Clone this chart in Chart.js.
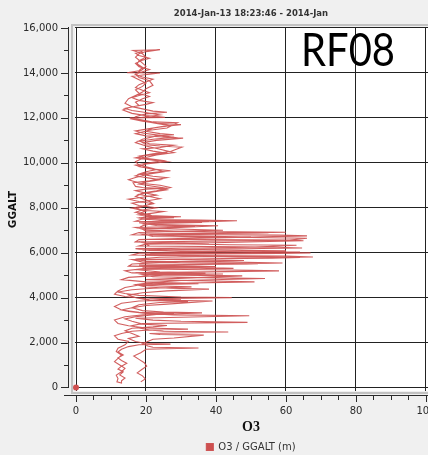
<!DOCTYPE html>
<html>
<head>
<meta charset="utf-8">
<title>RF08 O3 profile</title>
<script src="https://cdn.jsdelivr.net/npm/chart.js@4/dist/chart.umd.min.js"></script>
<style>
  html, body { margin: 0; padding: 0; overflow: hidden; background: #f0f0f0; }
  #wrap { width: 428px; height: 455px; overflow: hidden; }
  canvas { display: block; }
</style>
</head>
<body>
<div id="wrap"><canvas id="profileChart" width="504" height="462"></canvas></div>
<script>
// flight track: ozone (ppbv) against GPS altitude (m); first sample is the 0/0 record
const o3 = [
  0, null,
  // first climb
  18.5, 19.8, 19, 17.5, 18.8, 20.2, 19.5, 18, 16.5, 18.5,
  20, 35, 22, 20.5, 19, 20.5, 22, 28, 36.5, 24,
  21, 43.5, 25, 21, 18, 16, 19, 49, 30, 22,
  17, 49.5, 28, 20, 15, 13, 16, 20, 25, 39,
  27, 21, 44.5, 30, 18, 14, 12, 16, 22, 33,
  24, 18, 20, 51, 35, 20, 47.5, 30, 20, 17,
  58, 50, 25, 19, 40, 21, 59, 45, 20, 18,
  67.7, 60, 20, 22, 62.6, 64, 30, 19, 64.6, 55,
  21, 20, 65, 62, 22, 66, 58, 21, 55, 40,
  20, 19, 40.6, 30, 19, 46, 35, 20, 18, 22,
  21, 17, 19, 23, 18, 16, 20, 24, 21, 18,
  22, 26, 25, 19, 17, 16.3, 21, 26, 22, 18,
  20, 23, 19, 17, 21, 25, 20, 18, 22, 27,
  30.3, 24, 20, 19, 23, 30.6, 25, 20, 17, 21,
  26, 29, 22, 19, 15.4, 25.4, 20, 16, 13.4, 15,
  18, 17, 19, 21, 18, 17, 19, 20, 18, 16,
  24, 14.6, 18, 19, 17.5, 18, 20, 19, 16.3, 24,
  // descent
  20, 18, 17, 18.5, 20, 19, 17, 18, 21, 22,
  20, 19, 17, 15, 14, 16, 19, 22, 26, 20,
  17, 18, 23, 27, 22, 20, 24, 28, 23, 19,
  17, 20, 24, 28, 23, 19, 17, 18, 22, 25,
  21, 17, 15, 18, 24, 27, 23, 19, 17, 20,
  22, 19, 17, 20, 18, 21, 30, 22, 19, 17,
  36, 22, 19, 18, 42, 28, 18, 16, 50, 35,
  18, 17, 38, 20, 18, 55, 30, 18, 60, 45,
  18, 16, 50, 24, 17, 48, 30, 16, 15, 35,
  20, 14, 16, 42, 25, 15, 13, 20, 35, 18,
  14, 12, 11, 14, 20, 30, 18, 13, 11, 13,
  18, 28, 20, 14, 11, 12, 15, 20, 32, 21,
  16, 13, 11, 12, 15, 14, 12, 11.5, 13, 12,
  11, 12.5, 14, 13, 11.5, 12, 11.7, 13,
  // second climb
  13, 14, 12.5, 13.5, 12, 13, 14.5, 13, 12, 13.5,
  12, 13, 15, 18, 27, 20, 17, 15, 18, 16,
  14, 16, 22, 26, 19, 16, 14, 17, 23, 36,
  25, 19, 16, 18, 24, 32, 21, 17, 15, 19,
  26, 38, 27, 20, 17, 22, 30, 54, 40, 22,
  19, 37, 24, 17, 45, 30, 18, 52, 36, 19,
  16, 56, 64, 34, 20, 58, 67, 40, 21, 17,
  48, 63, 44, 20, 18, 61, 66, 50, 22, 19,
  44, 60, 30, 20, 17, 34, 23, 18, 38, 24,
  19, 28, 21, 18, 22, 25, 20, 16, 19, 22,
  18, 15, 19, 23, 20, 17, 20, 26, 22, 18,
  20, 24, 21, 17, 19, 24, 27, 22, 18, 20,
  26, 22, 17, 20, 26, 22, 19, 24, 28, 21,
  18, 22, 28, 24, 19, 17, 21, 25, 30, 23,
  19, 16, 20, 24, 19, 16, 14, 17, 20, 22,
  18, 16, 18, 21, 19, 17, 18, 20, 22, 19,
  17, 19, 21, 18, 17, 19, 21, 18, 17, 19
];

const ggalt = [
  0, null,
  // first climb
  250, 380, 520, 650, 800, 950, 1100, 1250, 1400, 1550,
  1700, 1760, 1790, 1850, 1950, 2050, 2150, 2200, 2330, 2360,
  2400, 2470, 2500, 2560, 2650, 2750, 2850, 2900, 2950, 3000,
  3080, 3190, 3230, 3300, 3380, 3450, 3550, 3650, 3700, 3850,
  3880, 3950, 4000, 4030, 4100, 4180, 4250, 4350, 4420, 4480,
  4520, 4560, 4620, 4700, 4750, 4800, 4970, 5000, 5050, 5100,
  5190, 5220, 5260, 5330, 5380, 5420, 5540, 5580, 5620, 5680,
  5810, 5850, 5880, 5950, 6000, 6030, 6060, 6120, 6210, 6250,
  6300, 6380, 6530, 6560, 6600, 6750, 6780, 6820, 6880, 6920,
  6960, 7050, 7200, 7230, 7280, 7420, 7450, 7480, 7550, 7620,
  7700, 7800, 7900, 8000, 8100, 8200, 8300, 8400, 8500, 8600,
  8700, 8800, 8850, 8900, 8950, 9110, 9200, 9340, 9400, 9500,
  9600, 9700, 9800, 9900, 10000, 10100, 10200, 10300, 10400, 10500,
  10700, 10750, 10800, 10900, 11000, 11100, 11150, 11200, 11300, 11450,
  11550, 11780, 11820, 11900, 12000, 12020, 12100, 12200, 12350, 12450,
  12550, 12700, 12850, 12950, 13100, 13250, 13400, 13550, 13700, 13850,
  14000, 14010, 14100, 14250, 14400, 14550, 14700, 14850, 15000, 15030,
  // descent
  14950, 14850, 14700, 14500, 14300, 14150, 13950, 13800, 13650, 13450,
  13300, 13150, 13000, 12850, 12650, 12500, 12400, 12300, 12250, 12180,
  12050, 11900, 11750, 11650, 11550, 11400, 11300, 11250, 11200, 11050,
  10900, 10750, 10600, 10450, 10350, 10200, 10050, 9900, 9750, 9600,
  9500, 9350, 9250, 9100, 9000, 8900, 8750, 8650, 8500, 8350,
  8200, 8050, 7950, 7850, 7750, 7650, 7600, 7560, 7500, 7400,
  7350, 7300, 7200, 7100, 7000, 6950, 6900, 6800, 6700, 6650,
  6580, 6480, 6420, 6380, 6300, 6250, 6200, 6150, 6080, 6040,
  5980, 5900, 5850, 5800, 5720, 5650, 5600, 5500, 5400, 5350,
  5300, 5200, 5100, 5050, 5000, 4900, 4800, 4700, 4620, 4560,
  4450, 4300, 4150, 4050, 3950, 3900, 3850, 3750, 3600, 3450,
  3350, 3300, 3250, 3150, 3000, 2850, 2750, 2650, 2600, 2560,
  2500, 2400, 2300, 2150, 2050, 1900, 1750, 1600, 1450, 1300,
  1150, 1000, 850, 700, 550, 400, 250, 200,
  // second climb
  300, 420, 560, 700, 820, 950, 1080, 1200, 1320, 1450,
  1580, 1700, 1820, 1900, 1930, 1960, 2050, 2180, 2280, 2400,
  2520, 2640, 2700, 2760, 2820, 2950, 3050, 3150, 3250, 3320,
  3360, 3420, 3550, 3680, 3780, 3820, 3880, 4000, 4120, 4220,
  4300, 4380, 4420, 4470, 4580, 4680, 4760, 4850, 4880, 4930,
  5020, 5080, 5140, 5250, 5300, 5360, 5450, 5500, 5530, 5580,
  5700, 5760, 5790, 5830, 5920, 5970, 5990, 6040, 6100, 6180,
  6230, 6330, 6350, 6420, 6480, 6560, 6640, 6680, 6720, 6830,
  6870, 6910, 6950, 7010, 7120, 7170, 7210, 7330, 7390, 7440,
  7500, 7560, 7600, 7680, 7760, 7830, 7880, 7980, 8080, 8180,
  8280, 8380, 8470, 8560, 8650, 8760, 8830, 8870, 8960, 9050,
  9150, 9250, 9320, 9420, 9520, 9600, 9650, 9720, 9830, 9950,
  10050, 10120, 10220, 10330, 10420, 10520, 10620, 10680, 10780, 10850,
  10960, 11050, 11130, 11220, 11330, 11420, 11520, 11620, 11700, 11760,
  11850, 11950, 12050, 12130, 12260, 12330, 12420, 12520, 12600, 12680,
  12780, 12900, 13000, 13120, 13230, 13350, 13480, 13600, 13720, 13820,
  13930, 14050, 14150, 14280, 14420, 14570, 14650, 14780, 14880, 14960
];

const altTicks = [0, 2000, 4000, 6000, 8000, 10000, 12000, 14000, 16000];
const o3Ticks = [0, 20, 40, 60, 80, 100];
const altMinorStep = 1000;
const o3MinorStep = 5;

const flightName = 'RF08';
const timeRange = '2014-Jan-13 18:23:46 - 2014-Jan';

const lineColor = 'rgba(204, 76, 76, 0.9)';
const axisColor = '#2b2b2b';

const points = o3.map((v, i) => ({ x: v, y: ggalt[i] }));

// gray frame, offset axes with minor ticks, and the flight label
const framePlugin = {
    id: 'frame',
    beforeDraw(chart) {
        const { ctx, chartArea: a } = chart;
        ctx.save();
        ctx.fillStyle = '#f0f0f0';
        ctx.fillRect(0, 0, chart.width, chart.height);
        ctx.fillStyle = '#ffffff';
        ctx.fillRect(a.left + 7, a.top + 3, a.right - a.left - 7, a.bottom - a.top - 7);
        ctx.restore();
    },
    beforeDatasetsDraw(chart) {
        const { ctx, chartArea: a, scales } = chart;
        const xs = scales.x, ys = scales.y;
        ctx.save();

        // frame strips between the axes and the plot
        ctx.fillStyle = '#f0f0f0';
        ctx.fillRect(a.left + 1, a.top, 6, a.bottom - a.top);
        ctx.fillRect(a.left + 1, a.top, a.right - a.left, 3);
        ctx.fillRect(a.left + 1, a.bottom - 4, a.right - a.left, 4);
        ctx.strokeStyle = '#c2c2c2';
        ctx.lineWidth = 2;
        ctx.strokeRect(72, 25, a.right - 72 + 2, a.bottom - 2 - 25);

        // axis lines
        ctx.strokeStyle = axisColor;
        ctx.lineWidth = 1;
        ctx.beginPath();
        const yTop = Math.round(ys.getPixelForValue(16000));
        ctx.moveTo(a.left + 0.5, yTop);
        ctx.lineTo(a.left + 0.5, Math.round(ys.getPixelForValue(0)) + 1);
        ctx.moveTo(64, a.bottom + 0.5);
        ctx.lineTo(a.right, a.bottom + 0.5);

        // y ticks
        for (let v = 0; v <= 16000; v += altMinorStep) {
            const py = Math.round(ys.getPixelForValue(v)) + 0.5;
            const major = altTicks.includes(v);
            ctx.moveTo(a.left - (major ? 7 : 4), py);
            ctx.lineTo(a.left + 1, py);
        }
        // x ticks
        for (let v = 0; v <= 100; v += o3MinorStep) {
            const px = Math.round(xs.getPixelForValue(v)) + 0.5;
            const major = o3Ticks.includes(v);
            ctx.moveTo(px, a.bottom);
            ctx.lineTo(px, a.bottom + (major ? 7 : 5));
        }
        ctx.stroke();

        // flight label, squeezed to the narrow face used on the plots
        ctx.fillStyle = '#000000';
        ctx.font = '46px Lato';
        ctx.textBaseline = 'alphabetic';
        const w = ctx.measureText(flightName).width;
        ctx.translate(301, 66);
        ctx.scale(94 / w, 1);
        ctx.fillText(flightName, 0, 0);
        ctx.restore();
    }
};

const ctx = document.getElementById('profileChart');

new Chart(ctx, {
    type: 'scatter',
    data: {
        datasets: [{
            label: 'O3 / GGALT (m)',
            data: points,
            showLine: true,
            spanGaps: false,
            borderColor: lineColor,
            backgroundColor: '#cd5050',
            borderWidth: 1.1,
            tension: 0,
            pointRadius: c => (c.dataIndex === 0 ? 3 : 0),
            pointBackgroundColor: '#d05050',
            pointBorderWidth: 0,
            pointHoverRadius: 0
        }]
    },
    options: {
        responsive: false,
        animation: false,
        devicePixelRatio: 1,
        events: [],
        layout: { padding: { left: 0, right: 70, top: 0, bottom: 0 } },
        plugins: {
            title: {
                display: true,
                fullSize: false,
                text: timeRange,
                color: '#333',
                font: { family: 'DejaVu Sans', size: 8.5, weight: 'bold' },
                padding: { top: 9, bottom: 4.8 }
            },
            legend: {
                position: 'bottom',
                fullSize: false,
                labels: {
                    boxWidth: 7,
                    boxHeight: 7,
                    padding: 4,
                    color: '#333',
                    font: { family: 'DejaVu Sans', size: 10 }
                }
            },
            tooltip: { enabled: false }
        },
        scales: {
            x: {
                type: 'linear',
                min: -2.286,
                max: 102.29,
                afterBuildTicks: s => { s.ticks = o3Ticks.map(v => ({ value: v })); },
                afterFit: s => { s.height = 43; },
                grid: { color: '#222', lineWidth: 1, drawTicks: false },
                border: { display: false },
                ticks: {
                    autoSkip: false,
                    maxRotation: 0,
                    padding: 10.5,
                    color: axisColor,
                    font: { family: 'DejaVu Sans', size: 10 },
                    callback: v => String(v)
                },
                title: {
                    display: true,
                    text: 'O3',
                    color: '#111',
                    font: { family: 'Liberation Serif', size: 14, weight: 'bold' },
                    padding: { top: 0, bottom: 2.6 }
                }
            },
            y: {
                type: 'linear',
                min: -334,
                max: 16178,
                afterBuildTicks: s => { s.ticks = altTicks.map(v => ({ value: v })); },
                afterFit: s => { s.width = 68; },
                grid: { color: '#222', lineWidth: 1, drawTicks: false },
                border: { display: false },
                ticks: {
                    autoSkip: false,
                    padding: 10,
                    color: axisColor,
                    font: { family: 'DejaVu Sans', size: 10 },
                    callback: v => v.toLocaleString('en-US')
                },
                title: {
                    display: true,
                    text: 'GGALT',
                    color: '#111',
                    font: { family: 'DejaVu Sans', size: 10.5, weight: 'bold' },
                    padding: { top: 7, bottom: 0 }
                }
            }
        }
    },
    plugins: [framePlugin]
});
</script>
</body>
</html>
